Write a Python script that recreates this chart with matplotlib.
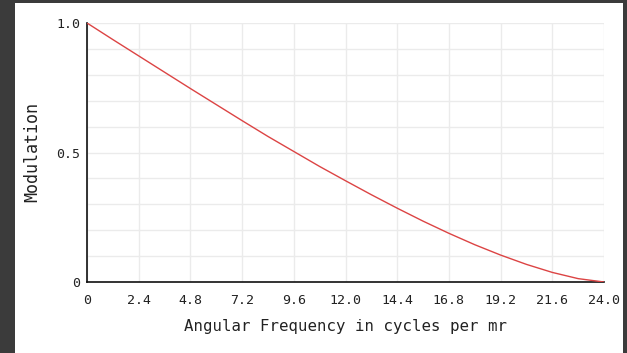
import matplotlib.pyplot as plt
from matplotlib.patches import Rectangle

# values
freq = [0, 1.2, 2.4, 3.6, 4.8, 6.0, 7.2, 8.4, 9.6, 10.8, 12.0,
        13.2, 14.4, 15.6, 16.8, 18.0, 19.2, 20.4, 21.6, 22.8, 24.0]
modulation = [1.0, 0.936, 0.873, 0.810, 0.747, 0.685, 0.623, 0.562, 0.504, 0.446, 0.391,
              0.337, 0.285, 0.235, 0.188, 0.144, 0.104, 0.068, 0.037, 0.013, 0.0]

x_ticks = [0, 2.4, 4.8, 7.2, 9.6, 12.0, 14.4, 16.8, 19.2, 21.6, 24.0]
x_tick_labels = ['0', '2.4', '4.8', '7.2', '9.6', '12.0', '14.4', '16.8', '19.2', '21.6', '24.0']
y_ticks = [0, 0.5, 1.0]
y_tick_labels = ['0', '0.5', '1.0']
y_grid = [0.1 * i for i in range(11)]

plt.rcParams['font.family'] = 'DejaVu Sans Mono'

fig = plt.figure(figsize=(6.27, 3.53), dpi=100, facecolor='#3b3b3b')
# white panel inside dark frame
fig.patches.append(Rectangle((15 / 627, 0), (623 - 15) / 627, 1 - 3 / 353,
                             transform=fig.transFigure, facecolor='white',
                             edgecolor='none', zorder=-10))

ax = fig.add_axes([87 / 627, 1 - 282 / 353, (604 - 87) / 627, (282 - 23) / 353])
ax.set_facecolor('white')

ax.plot(freq, modulation, color='#dc4444', linewidth=1.0, zorder=3)

ax.set_xlim(0, 24)
ax.set_ylim(0, 1)

ax.set_xticks(x_ticks)
ax.set_xticklabels(x_tick_labels)
ax.set_yticks(y_ticks)
ax.set_yticklabels(y_tick_labels)
ax.set_yticks(y_grid, minor=True)

ax.grid(True, which='both', color='#ebebeb', linewidth=1.0)
ax.set_axisbelow(True)

ax.tick_params(axis='both', which='both', length=0, labelsize=9.5, colors='#222222')
ax.tick_params(axis='x', pad=9)
ax.tick_params(axis='y', pad=5)

for side in ['top', 'right']:
    ax.spines[side].set_visible(False)
ax.spines['left'].set_color('#111111')
ax.spines['bottom'].set_color('#111111')
ax.spines['left'].set_linewidth(1.2)
ax.spines['bottom'].set_linewidth(1.2)

ax.set_xlabel('Angular Frequency in cycles per mr', fontsize=11.3, labelpad=8, color='#222222')
fig.text(32 / 627, 1 - 152 / 353, 'Modulation', rotation=90, ha='center', va='center',
         fontsize=12, color='#222222')

fig.savefig('out.png', dpi=100, facecolor=fig.get_facecolor())
